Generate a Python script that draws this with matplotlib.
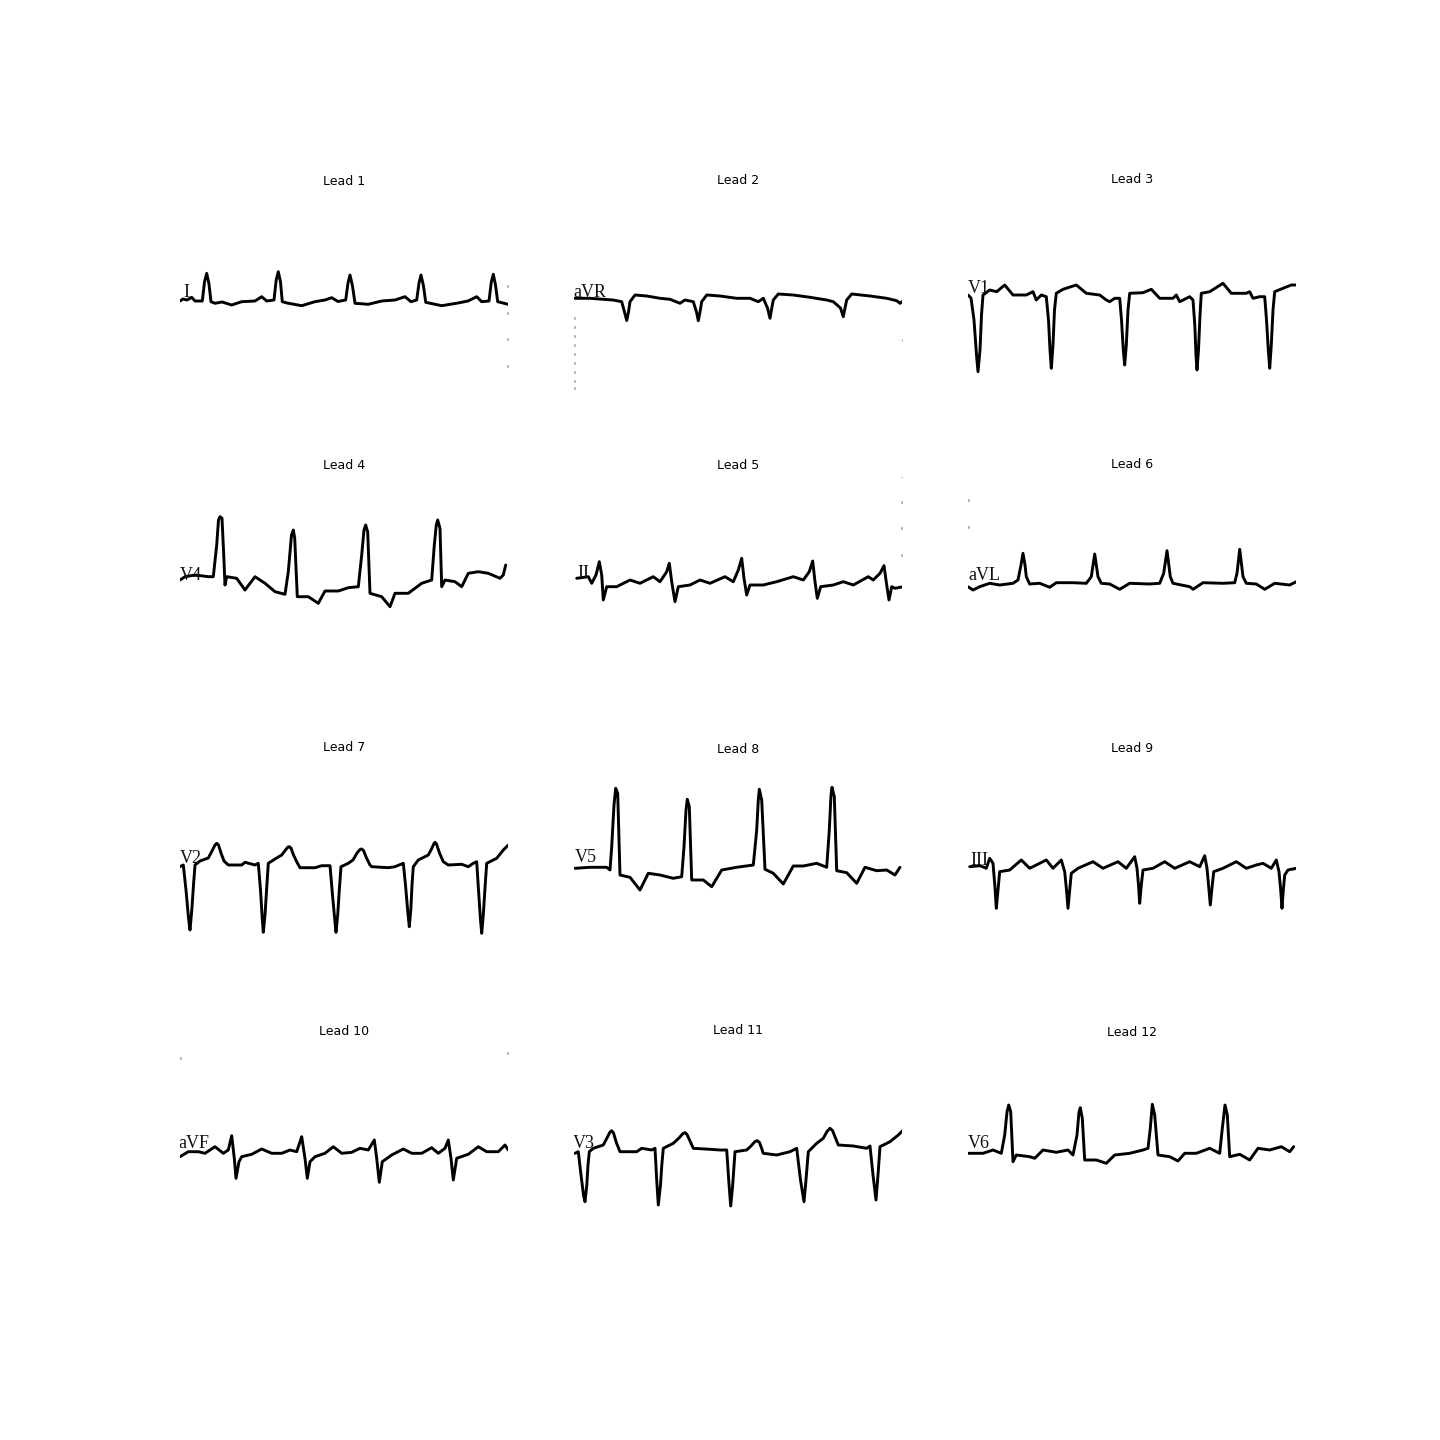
import matplotlib
matplotlib.use("Agg")
import matplotlib.pyplot as plt

# ---------------- data (trace points, in figure pixels) -------------
titles = ["Lead %d" % i for i in range(1, 13)]
lead_names = ["I", "aVR", "V1", "V4", "II", "aVL", "V2", "V5", "III", "aVF", "V3", "V6"]
label_x = [183, 573, 968, 180, 577, 968, 180, 575, 970, 178, 573, 968]
label_y = [297, 297, 293, 580, 578, 580, 863, 862, 865, 1148, 1148, 1148]
panel_heights = [200, 202, 204, 211, 211, 213, 225, 221, 223, 236, 238, 234]

lead1 = [(180,301),(183,299),(187,300),(191.7,297.3),(195,301),(202.3,301),(204.5,282),(206.7,273.3),
         (209,284),(211,301.7),(215,303.3),(222,302),(231.7,305),(241.7,301.7),(255,301),(261.7,296.7),
         (266.7,301),(274,300),(276.2,280),(278.3,271.7),(280.5,282),(282.3,301.7),(287,303),(301.7,305.7),
         (315,301.7),(325,300),(331.7,297.7),(338,301.5),(345.7,300),(348,283),(350,275),(352.5,286),
         (355,303.3),(368.3,304.3),(381.7,301),(395,300),(405,296.7),(411,301.7),(416.7,300),(419,283),
         (421,275),(423.5,286),(425.7,302.3),(441.7,305.7),(458,303),(468,301),(476.7,296.7),(481.7,301.7),
         (489,301),(491.3,282),(493.3,274.3),(495.5,285),(497.7,301.7),(503,303),(508,304.3)]

lead2 = [(573.3,298.3),(590,298.3),(603.3,299.3),(613,300),(621.7,301.7),(624.5,312),(626.7,320.5),
         (628.5,312),(630,301.7),(635,295),(646.7,296),(660,298.3),(670,299.3),(680,303.3),(685,300),
         (693.3,301.7),(696.5,312),(698.3,320.7),(700,312),(701.7,301.7),(706.7,295),(720,296),
         (736.7,298.3),(750,298.3),(758.3,301.7),(763.3,298.3),(767.5,308),(770,318.3),(771.8,308),
         (773.3,300),(778.3,294),(793.3,295),(810,297.3),(826.7,300),(833.3,301.7),(840.5,308),
         (843.3,316.7),(845,308),(846.7,300),(851.7,294),(870,296),(886.7,298.3),(896.7,300.7),
         (900,303.3),(903.3,300.7)]

lead3 = [(968,295),(971,298),(974,320),(976.5,355),(978,371.7),(980,350),(981.5,315),(983,295),
         (989.7,290),(996.7,291.7),(1004.7,285),(1013,295),(1026.3,295),(1033,291.7),(1036.3,300),
         (1041.3,295),(1046.3,296.7),(1048.5,320),(1050,350),(1051.3,368.3),(1053,345),(1054.5,310),
         (1056.3,293.3),(1063,289.3),(1076.3,285),(1086.3,293.3),(1099.7,295),(1106.3,300),(1109.7,301.7),
         (1114.7,298.3),(1119.7,298.3),(1121.5,320),(1123.3,350),(1124.7,365),(1126.3,345),(1128,310),
         (1129.7,293.3),(1143,292.7),(1151.3,289.3),(1159.7,298.3),(1173,298.3),(1176.3,295),(1179.7,301.7),
         (1189.7,296.7),(1193,300),(1194.8,325),(1196,355),(1197,370),(1198.5,350),(1200,315),(1201.3,293.3),
         (1209.7,291.7),(1223,283.3),(1231.3,293.3),(1246.3,293.3),(1249.7,291.7),(1253,298.3),(1259.7,296.7),
         (1264.7,296.7),(1266.5,320),(1268.3,350),(1269.7,368.3),(1271.3,345),(1273,310),(1274.7,291.7),
         (1283,288.3),(1291.3,285),(1296.3,285)]

lead4 = [(180,580),(185,576.7),(195,575),(203,576),(208.3,576.7),(213.3,576.7),(216.7,545),(218.5,520),
         (220,516.7),(222,518.3),(223.5,550),(225,585),(226.7,576.7),(236.7,578.3),(245,590),(255,576.7),
         (265,583.3),(275,591.7),(285,594.3),(288.3,571.7),(291.5,535),(293.3,530),(294.7,538),(297.3,596.7),
         (308.3,596.7),(318.3,603.3),(325,591),(338.3,591),(348.3,587.7),(358.3,586.7),(361.7,555),(364,530),
         (365.7,525),(367.7,532),(370,593.3),(381.7,596.7),(390,606.7),(395,593.3),(408.3,593.3),(421.7,583.3),
         (431.7,580),(434.3,545),(436.3,525),(437.7,520),(440,528.3),(441.7,586.7),(445,580),(455,581.7),
         (461.7,586.7),(468.3,573.3),(478.3,571.7),(488.3,573.3),(500,578.3),(503.3,575),(505.7,565)]

lead5 = [(576.7,578.3),(588.3,576.7),(591.7,583.3),(596,575),(599.3,561.7),(601.7,575),(603.3,600),
         (606.7,586.7),(616.7,586.7),(630,580),(640,583.3),(653.3,576.7),(660,581.7),(666.7,571.7),
         (669.3,563.3),(671.7,581.7),(675,601.7),(678.3,586.7),(690,585),(700,580),(710,583.3),(725,576.7),
         (733.3,581.7),(738.3,570),(741.7,558.3),(744,578.3),(746.7,595),(750,585),(763.3,585),(776.7,581.7),
         (793.3,576.7),(803.3,580),(809.3,571.7),(812.7,561),(815,581.7),(817.3,598.3),(820.7,586.7),
         (833.3,585),(843.3,581.7),(853.3,585),(868.3,576.7),(873.3,580),(880,573.3),(884,565.7),
         (886.7,585),(889,600),(891.7,586.7),(895,588.3),(903.3,586.7)]

lead6 = [(968,586.7),(973,590),(979.7,586.7),(989.7,583.3),(999.7,585),(1013,583.3),(1018,580),
         (1021,565),(1023,553.3),(1025,565),(1026.3,576.7),(1029.7,584),(1039.7,583.3),(1049.7,587.3),
         (1056.3,582.7),(1073,582.7),(1086.3,583.3),(1091.3,576.7),(1094.7,554),(1098,576.7),(1101.3,583.3),
         (1109.7,584),(1119.7,589.3),(1129.7,583.3),(1149.7,584),(1159.7,583.3),(1163.7,573.3),(1167,550.7),
         (1170.3,576.7),(1173,583.3),(1189.7,586.7),(1193,589.3),(1203,582.7),(1223,583.3),(1234.7,582.7),
         (1237,573.3),(1239.7,549.3),(1243,576.7),(1246.3,583.3),(1256.3,584),(1264.7,589.3),(1274.7,583.3),
         (1289.7,585),(1296.3,581.7)]

lead7 = [(180,866.7),(183.3,865),(186,890),(188.5,918),(190,930),(191.8,910),(193.5,885),(195,865),
         (200,861),(208.3,858),(212,851),(215,845),(216.7,843.3),(218.5,845),(221,853),(224,861),
         (228.3,865),(241.7,865),(245,862.3),(255,865),
         (258.3,863.3),(260.5,890),(262.2,918),(263.3,932.3),(265,915),(266.7,888),(268.3,863.3),(275,859),
         (281.7,855),(285.5,850),(288,847),(289.3,846.7),(291,848),(293.5,855),(296.7,861.7),
         (300,867.7),(315,867.7),(321.7,865.7),(330,865.7),
         (332.5,895),(334.8,920),(336,932.3),(337.7,915),(339.3,890),(341,866.7),(348.3,863.3),
         (353,860),(357,853),(360,849.5),(361.7,849),(363.5,850.5),(366.5,858),(370,865),
         (371.7,866.7),(388.3,867.7),(395,866.7),(403.3,863.3),(405.5,885),(407.8,912),(409.3,926.7),
         (410.8,910),(412,885),(413.3,866.7),(418.3,860),(428.3,855),(431.5,849),(434,843.5),(435,842.3),
         (436.5,844),(439.5,853),(443.3,861.7),(448.3,865),
         (461.7,864.3),(468.3,866.7),(473.3,863.3),(476.7,861.7),(478.5,890),(480.5,920),(481.7,933.3),
         (483.3,915),(485,888),(486.7,863.3),(496.7,858.3),(503.3,850),(508.3,845)]

lead8 = [(575,868.3),(590,867.3),(606.7,867.3),(610,870),(611.7,846.7),(614,805),(615.7,788.3),
         (617.7,793.3),(620,875),(630,877.3),(640,890),(648.3,873.3),(660,875),(673.3,878.3),(681.7,876.7),
         (684,846.7),(686,810),(687.3,799.3),(689.3,806.7),(691.7,880),(703.3,880),(711.7,886.7),(721.7,870),
         (736.7,867.3),(753.3,865),(756.7,830),(758.3,800),(759.3,789.3),(761.7,800),(765,869.3),(773.3,873.3),
         (783.3,884),(793.3,866),(803.3,866),(816.7,863.3),(826.7,867.3),(829.3,830),(831,795),(832,787.3),
         (834.3,796.7),(836.7,870.7),(846.7,872.7),(856.7,883.3),(865,867.3),(876.7,870.7),(886.7,870),
         (895,875),(900,867.3)]

lead9 = [(969.7,866.7),(980,865.7),(986.3,868.3),(989.7,858.3),(993,863.3),(994.8,885),(996.3,908.3),
         (998,890),(999.7,871.7),(1009.7,870),(1021.3,860),(1029.7,868.3),(1046.3,860),(1053,868.3),
         (1061.3,860),(1064.7,871.7),(1066.5,890),(1068,908.3),(1069.7,890),(1071.3,873.3),(1078,868.3),
         (1093,861.7),(1103,868.3),(1118,861.7),(1126.3,868.3),(1134.7,856.7),(1137,868.3),(1138.5,885),
         (1139.7,903.3),(1141.3,885),(1143,870),(1153,868.3),(1164.7,861.7),(1174.7,868.3),(1189.7,861.7),
         (1199.7,866.7),(1204.7,855.7),(1207,868.3),(1208.8,888),(1210.3,905),(1212,888),(1213.7,871.7),
         (1223,868.3),(1236.3,861.7),(1246.3,868.3),(1256.3,865),(1263,863.3),(1271.3,868.3),(1276.3,860),
         (1279,871.7),(1280.7,890),(1282,908.3),(1283.3,890),(1284.7,875),(1288,870),(1296.3,868.3)]

lead10 = [(180,1156.7),(188.3,1151.7),(198.3,1151.7),(205,1153.3),(215,1146.7),(223.3,1153.3),
          (228.3,1150),(231.7,1135.7),(234.3,1158.3),(236,1178.3),(239,1161.7),(241.7,1156.7),(251.7,1154.3),
          (261.7,1149),(271.7,1153.3),(281.7,1153.3),(290,1150),(296.7,1151.7),(301.7,1136.7),(305,1158.3),
          (307.3,1178.3),(310,1161.7),(315,1156.7),(325,1153.3),(333.3,1146.7),(341.7,1153.3),(351.7,1152.3),
          (360,1148.3),(368.3,1150),(374.3,1140),(376.7,1158.3),(379.3,1182.3),(382.3,1161.7),(391.7,1155),
          (403.3,1149),(411.7,1153.3),(421.7,1153.3),(431.7,1147.7),(438.3,1153.3),(445,1148.3),(448.3,1140),
          (451,1158.3),(453.3,1180),(456.7,1158.3),(468.3,1154.3),(478.3,1146.7),(486.7,1151.7),
          (498.3,1151.7),(505,1145),(508.3,1150)]

lead11 = [(575,1153.3),(578.3,1151.7),(581,1175),(583.5,1195),(585,1201.7),(586.8,1185),(588,1165),
          (589.3,1151.7),(593.3,1148.3),(603.3,1145),(607,1138),(610,1132),(611.7,1130.7),(613.5,1133),
          (616.5,1143),(620,1151.7),(636.7,1151.7),
          (641.7,1148.3),(651.7,1150),(655,1148.3),(656.7,1180),(658.3,1205),(660.5,1185),(661.8,1165),
          (663.3,1148.3),(673.3,1143.3),(679,1138),(683,1133.5),(685,1132.7),(687,1134.5),(690,1141),
          (693.3,1148.3),(710,1149.3),(720,1150),(726.7,1150),
          (728.7,1180),(730.7,1206),(732.7,1185),(735,1151.7),(746.7,1150),(751,1146),(755,1141.5),
          (757.3,1140.7),(759.5,1142.5),(761.5,1148),(763.3,1153.3),
          (776.7,1155),(790,1151.7),(796.7,1148.3),(800.5,1180),(804,1201.7),(806,1180),(808.3,1151.7),
          (816.7,1143.3),(823.3,1138.3),(827,1131.5),(830,1128.3),(832.5,1130.5),(835.5,1138),(838.3,1145),
          (853.3,1146),(866.7,1148.3),(870,1146),
          (873,1175),(876,1200),(878,1175),(880,1146.7),(890,1141.7),(898.3,1135),(903.3,1130)]

lead12 = [(968,1153.3),(983,1153.3),(993,1150),(1001.3,1153.3),(1004.7,1135),(1007,1112),(1008.7,1105),
          (1010.7,1111.7),(1013,1161.7),(1016.3,1155),(1029.7,1156.7),(1034.7,1158.3),(1043,1150),
          (1056.3,1152.3),(1068,1150),(1073,1155),(1077,1135),(1079,1112),(1080.3,1107.7),(1082.3,1118.3),
          (1084.7,1160),(1096.3,1160),(1106.3,1163.3),(1114.7,1155),(1129.7,1153.3),(1143,1150),(1148,1148.3),
          (1150.3,1128.3),(1152.3,1104.3),(1154.7,1115),(1158,1155),(1169.7,1156.7),(1178,1161),
          (1184.7,1153.3),(1196.3,1153.3),(1209.7,1148.3),(1219.7,1153.3),(1222.3,1128.3),(1225,1105),
          (1227.3,1115),(1229.7,1156.7),(1239.7,1154.3),(1249.7,1160),(1258,1148.3),(1269.7,1150),
          (1281.3,1146.7),(1289.7,1151.7),(1293.7,1146.7)]

# faint scan specks near image edges
specks = {
    0: [(508, 286), (508, 313), (508, 339), (508, 366)],
    1: [(574, 318), (574, 327), (574, 336), (574, 345), (574, 354), (574, 363), (574, 372),
        (574, 381), (574, 388), (903, 340)],
    4: [(902, 476), (902, 502), (902, 528), (902, 555)],
    5: [(968, 474), (968, 500), (968, 527), (1296, 474)],
    9: [(180, 1058), (508, 1053)],
}

traces = [lead1, lead2, lead3, lead4, lead5, lead6, lead7, lead8, lead9, lead10, lead11, lead12]

# ---------------- drawing ----------------
FIG_W, FIG_H = 1440, 1440
fig, axes = plt.subplots(4, 3, figsize=(14.4, 14.4), dpi=100)

for i, ax in enumerate(axes.flat):
    pos = ax.get_position()
    x0 = pos.x0 * FIG_W
    x1 = pos.x1 * FIG_W
    yc = (1 - (pos.y0 + pos.y1) / 2) * FIG_H
    h = panel_heights[i]

    xs, ys = zip(*traces[i])
    ax.plot(xs, ys, color="black", lw=2.1, solid_joinstyle="round", solid_capstyle="round")
    if i in specks:
        sx, sy = zip(*specks[i])
        ax.plot(sx, sy, linestyle="none", marker="o", markersize=1.2, color="#b0b0b0")

    ax.text(label_x[i], label_y[i], lead_names[i], family=["Liberation Serif", "DejaVu Serif"],
            fontsize=13, ha="left", va="baseline", color="#111111", clip_on=True)

    ax.set_xlim(x0, x1)
    ax.set_ylim(yc + h / 2, yc - h / 2)
    ax.set_aspect("equal")
    ax.axis("off")
    ax.set_title(titles[i], fontsize=9)

fig.savefig("out.png", dpi=100)
